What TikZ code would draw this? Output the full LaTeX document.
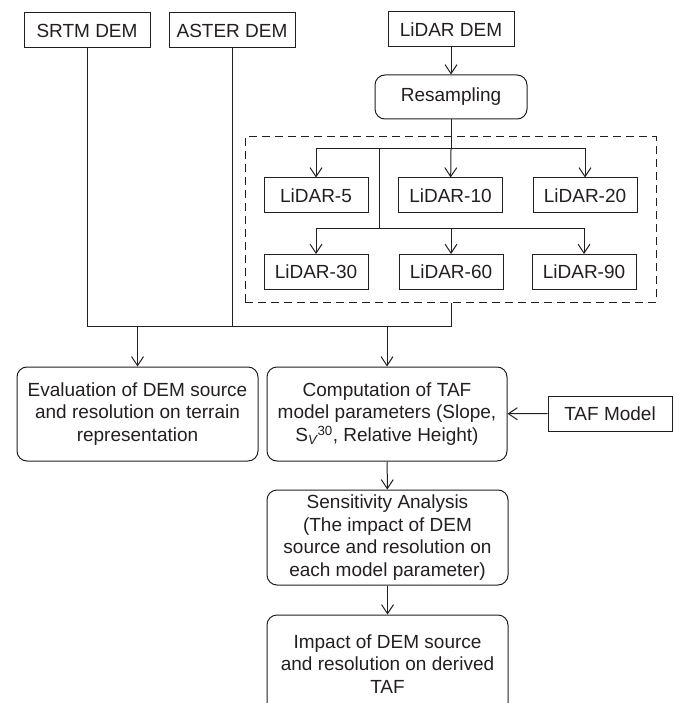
\documentclass[tikz,border=0pt]{standalone}
\usepackage{fontspec}
\setmainfont{Liberation Sans}
\usetikzlibrary{arrows.meta}
\definecolor{ink}{HTML}{231F20}
\begin{document}
\begin{tikzpicture}[
                x=1pt, y=-1pt,
                every node/.style={font=\fontsize{19}{22.5}\selectfont, text=ink, draw=ink, line width=1pt, inner sep=0pt, align=center},
                box/.style={rectangle, minimum height=35pt},
                srcbox/.style={box, minimum width=126pt},
                resbox/.style={box, minimum width=104pt},
                rbox/.style={rectangle, rounded corners=10pt, minimum width=241pt},
                line/.style={draw=ink, line width=1pt},
                arr/.style={line, -{Straight Barb[length=9pt,width=12pt]}}
            ]

            \clip (0,0) rectangle (680,703);

            \node[srcbox] (srtm) at (87,30.5) {SRTM DEM};
            \node[srcbox] (aster) at (232,30.5) {ASTER DEM};
            \node[srcbox] (lidar) at (451,29.5) {LiDAR DEM};
            \node[rbox, minimum width=152pt, minimum height=44pt] (resamp) at (451,97) {Resampling};

            \node[rectangle, dashed, dash pattern=on 8pt off 5pt, minimum width=411pt, minimum height=165pt] (group) at (450.5,219.5) {};

            \node[resbox] (l5) at (316,195.5) {LiDAR-5};
            \node[resbox] (l10) at (450.5,195.5) {LiDAR-10};
            \node[resbox] (l20) at (585,195.5) {LiDAR-20};
            \node[resbox] (l30) at (316,272) {LiDAR-30};
            \node[resbox] (l60) at (451,272) {LiDAR-60};
            \node[resbox] (l90) at (584,272) {LiDAR-90};

            \node[rbox, minimum height=94pt] (eval) at (137.5,414)
                {Evaluation of DEM source\\ and resolution on terrain\\ representation};
            \node[rbox, minimum width=240pt, minimum height=94pt] (comp) at (387,414)
                {Computation of TAF\\ model parameters (Slope,\\ S\textsubscript{\itshape V}\textsuperscript{30}, Relative Height)};
            \node[srcbox, minimum width=124pt] (taf) at (610,413.5) {TAF Model};
            \node[rbox, minimum height=95pt] (sens) at (387.5,537.5)
                {Sensitivity Analysis\\ (The impact of DEM\\ source and resolution on\\ each model parameter)};
            \node[rbox, minimum height=98pt] (impact) at (387.5,664)
                {Impact of DEM source\\ and resolution on derived\\ TAF};

            \coordinate (split1) at (451,149);
            \coordinate (split2) at (379,228);
            \coordinate (mergeL) at (87,326);
            \coordinate (mergeR) at (451,326);

            \draw[arr] (lidar) -- (resamp);
            \draw[line] (resamp) -- (split1);
            \draw[arr] (split1) -| (l5);
            \draw[arr] (split1) -- (l10);
            \draw[arr] (split1) -| (l20);
            \draw[line] (split1 -| split2) -- (split2);
            \draw[arr] (split2) -| (l30);
            \draw[arr] (split2 -| l60) -- (l60);
            \draw[arr] (split2) -| (l90);

            \draw[line] (srtm) -- (mergeL) -- (mergeR) -- (group.south -| mergeR);
            \draw[line] (aster) -- (aster |- mergeL);
            \draw[arr] (eval.north |- mergeL) -- (eval);
            \draw[arr] (comp.north |- mergeL) -- (comp);
            \draw[arr] (taf) -- (comp);
            \draw[arr] (comp) -- (sens);
            \draw[arr] (sens) -- (impact);

        \end{tikzpicture}
\end{document}
